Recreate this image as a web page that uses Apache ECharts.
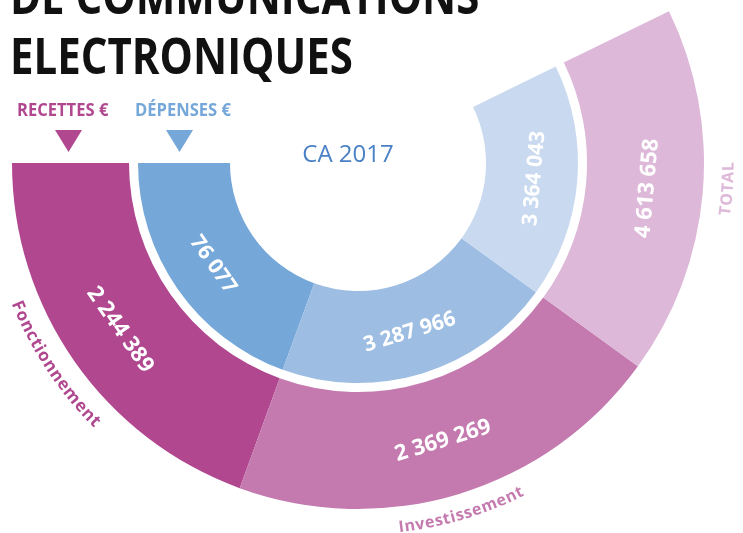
<!DOCTYPE html>
<html>
<head>
<meta charset="utf-8">
<script src="https://cdn.jsdelivr.net/npm/echarts@6/dist/echarts.min.js"></script>
<style>
  html, body { margin: 0; padding: 0; background: #fff; }
  #chart { width: 743px; height: 533px; }
</style>
</head>
<body>
<div id="chart"></div>
<script>
// data
const segmentNames = ['Fonctionnement', 'Investissement', 'TOTAL'];
const recettes = [2244389, 2369269, 4613658];
const depenses = [76077, 3287966, 3364043];
// the segments are not drawn to scale: angular span of each one, in degrees, as drawn
const arcSpans = [70, 74, 62];

const recettesColors = ['#B0478F', '#C47AAF', '#DDB8D9'];
const depensesColors = ['#75A7D9', '#9DBDE3', '#C9DAF0'];

const cx = 358;
const cy = 163;

const fmt = (n) => String(n).replace(/\B(?=(\d{3})+(?!\d))/g, ' ');

const measureCtx = document.createElement('canvas').getContext('2d');

// letters laid out on a circle round the chart centre, read anticlockwise, tops facing the centre
const arcText = (str, midDeg, r, font, color, spacing) => {
  measureCtx.font = font;
  const total = measureCtx.measureText(str).width + spacing * (str.length - 1);
  let cur = (midDeg * Math.PI) / 180 - total / 2 / r;
  const els = [];
  for (const ch of str) {
    const w = measureCtx.measureText(ch).width;
    const a = cur + w / 2 / r;
    els.push({
      type: 'text',
      x: cx + r * Math.cos(a),
      y: cy - r * Math.sin(a),
      rotation: a - (3 * Math.PI) / 2,
      style: {
        text: ch,
        font,
        fill: color,
        align: 'center',
        verticalAlign: 'middle',
        textAlign: 'center',
        textVerticalAlign: 'middle',
      },
    });
    cur += (w + spacing) / r;
  }
  return els;
};

const titleFont = 'bold 50px "Open Sans"';
const legendFont = 'bold 18px "Open Sans"';

const graphics = [
  {
    type: 'text',
    x: 10,
    y: 0,
    scaleX: 0.84,
    style: { text: 'DE COMMUNICATIONS', font: titleFont, fill: '#111', verticalAlign: 'middle', textVerticalAlign: 'middle' },
  },
  {
    type: 'text',
    x: 10,
    y: 60,
    scaleX: 0.84,
    style: { text: 'ELECTRONIQUES', font: titleFont, fill: '#111', verticalAlign: 'middle', textVerticalAlign: 'middle' },
  },
  {
    type: 'text',
    x: 17,
    y: 111,
    scaleX: 0.92,
    style: { text: 'RECETTES €', font: legendFont, fill: recettesColors[0], verticalAlign: 'middle', textVerticalAlign: 'middle' },
  },
  {
    type: 'text',
    x: 135,
    y: 111,
    scaleX: 0.92,
    style: { text: 'DÉPENSES €', font: legendFont, fill: depensesColors[0], verticalAlign: 'middle', textVerticalAlign: 'middle' },
  },
  {
    type: 'polygon',
    shape: { points: [[55, 130], [82, 130], [68.5, 152]] },
    style: { fill: recettesColors[0] },
  },
  {
    type: 'polygon',
    shape: { points: [[166, 130], [193, 130], [179.5, 152]] },
    style: { fill: depensesColors[0] },
  },
  {
    type: 'text',
    x: cx - 10,
    y: 155,
    style: {
      text: 'CA 2017',
      font: '24px "Open Sans"',
      fill: '#4A80C6',
      align: 'center',
      verticalAlign: 'middle',
      textAlign: 'center',
      textVerticalAlign: 'middle',
    },
  },
  ...arcText(segmentNames[0], 213.6, 369, 'bold 17px "Open Sans"', recettesColors[0], 0.6),
  ...arcText(segmentNames[1], 286.5, 367, 'bold 16px "Open Sans"', recettesColors[1], 0.6),
  ...arcText(segmentNames[2], 356, 371, 'bold 16px "Open Sans"', recettesColors[2], 0.5),
];

const ringLabel = (amounts, size) => ({
  show: true,
  position: 'inside',
  rotate: 'tangential',
  color: '#fff',
  fontSize: size,
  fontWeight: 'bold',
  fontFamily: 'Open Sans',
  formatter: (p) => fmt(amounts[p.dataIndex]),
});

const chart = echarts.init(document.getElementById('chart'), null, { renderer: 'canvas' });

chart.setOption({
  animation: false,
  graphic: graphics,
  series: [
    {
      name: 'Recettes',
      type: 'pie',
      center: [cx, cy],
      radius: [229, 346],
      startAngle: 180,
      endAngle: 26,
      clockwise: false,
      silent: true,
      label: ringLabel(recettes, 22),
      labelLine: { show: false },
      data: arcSpans.map((v, i) => ({ value: v, name: segmentNames[i], itemStyle: { color: recettesColors[i] } })),
    },
    {
      name: 'Dépenses',
      type: 'pie',
      center: [cx, cy],
      radius: [128, 220],
      startAngle: 180,
      endAngle: 26,
      clockwise: false,
      silent: true,
      label: ringLabel(depenses, 21),
      labelLine: { show: false },
      data: arcSpans.map((v, i) => ({ value: v, name: segmentNames[i], itemStyle: { color: depensesColors[i] } })),
    },
  ],
});
</script>
</body>
</html>
